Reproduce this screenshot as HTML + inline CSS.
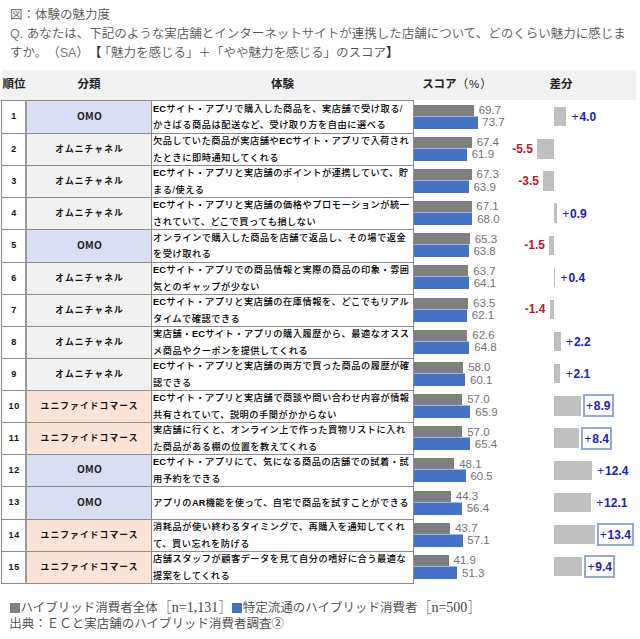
<!DOCTYPE html>
<html lang="ja"><head><meta charset="utf-8"><title>体験の魅力度</title>
<style>
*{margin:0;padding:0;box-sizing:border-box}
html,body{width:640px;height:639px;background:#fff;overflow:hidden}
body{position:relative;font-family:"Liberation Sans","Noto Sans CJK JP",sans-serif;text-spacing-trim:space-all}
.t{position:absolute;left:10px;font-size:12.5px;font-weight:350;color:#555;white-space:nowrap;line-height:19.1px}
.lt{color:#7a7a7a}
.hd{position:absolute;left:2px;top:70px;width:634px;height:30px;background:#F2F2F2}
.h{position:absolute;top:70px;height:30px;line-height:29px;font-size:11.5px;font-weight:bold;color:#222;text-align:center;white-space:nowrap}
.c{position:absolute}
.c1{left:2px;width:23px;font-size:9px;font-weight:bold;color:#111;display:flex;align-items:center;justify-content:center;padding-bottom:2px;letter-spacing:0.7px;text-indent:1.4px}
.c2{left:27px;width:124px;font-size:8.7px;font-weight:bold;color:#111;display:flex;align-items:center;justify-content:center;letter-spacing:1.15px;text-indent:1.15px;padding-bottom:2px}
.c2.omo{letter-spacing:0.2px;font-size:10.2px;padding-bottom:3.5px;font-family:"Noto Sans CJK JP",sans-serif;font-weight:bold;color:#222}
.c3{left:152px;width:261px;background:#fff;font-size:9.2px;font-weight:500;color:#000;display:flex;align-items:center;padding-left:1px;letter-spacing:0.55px;line-height:16.5px;white-space:nowrap;overflow:hidden}
.c3 b{font-weight:bold;letter-spacing:0.2px}
.hl{position:absolute;left:1px;width:413px;height:1px;background:#8C8C8C}
.vl{position:absolute;top:100px;height:484px;background:#8C8C8C}
.bg{position:absolute;left:413px;height:11px;background:#7F7F7F}
.bb{position:absolute;left:413px;height:12px;background:#4472C4;box-shadow:0 -1px 0 rgba(68,114,196,0.5)}
.v{position:absolute;font-size:11.5px;color:#727272;line-height:12px;white-space:nowrap}
.db{position:absolute;height:19.3px;background:#BFBFBF}
.dp,.dn{position:absolute;font-size:12px;font-weight:bold;line-height:18px;white-space:nowrap}
.dp{color:#2020C0}
.ps{font-weight:normal;margin-right:0.8px}
.dn{color:#C4142A}
.box{border:2px solid #95A8D8;padding:1px 1.1px 0 1.1px;line-height:18px}
.lg{position:absolute;left:10px;font-size:12.5px;font-weight:350;color:#444;white-space:nowrap;line-height:16px}
.sq{display:inline-block;width:9.5px;height:9.4px;vertical-align:-0.5px;margin-right:1px}
.pc{font-weight:normal;color:#222;letter-spacing:1px}
.sf{font-family:"Liberation Serif","Noto Serif CJK SC",serif;font-size:14px}
</style></head><body>
<div class="t" style="top:5.8px">図：体験の魅力度</div>
<div class="t" style="top:24.9px"><span class="lt">Q.</span> あなたは、下記のような実店舗とインターネットサイトが連携した店舗について、どのくらい魅力に感じま</div>
<div class="t" style="top:44px">すか。（<span class="lt">SA</span>）<span style="letter-spacing:-3px;font-weight:bold;color:#333">【</span>「魅力を感じる」＋「やや魅力を感じる」のスコア<b style="color:#333">】</b></div>
<div class="hd"></div>
<div class="h" style="left:0;width:28px">順位</div>
<div class="h" style="left:26px;width:126px">分類</div>
<div class="h" style="left:152px;width:261px">体験</div>
<div class="h" style="left:415.5px;width:84px">スコア<span class="pc">（%）</span></div>
<div class="h" style="left:520px;width:82px">差分</div>
<div class="c c1" style="top:101px;height:32px">1</div>
<div class="c c2 omo" style="top:101px;height:32px;background:#DADEF3">OMO</div>
<div class="c c3" style="top:101px;height:32px"><span><b>EC</b>サイト・アプリで購入した商品を、実店舗で受け取る/<br>かさばる商品は配送など、受け取り方を自由に選べる</span></div>
<div class="bg" style="top:104.6px;width:60.91px"></div>
<div class="bb" style="top:116.6px;width:64.52px"></div>
<div class="v" style="top:104.0px;left:478.71px">69.7</div>
<div class="v" style="top:116.3px;left:482.32px">73.7</div>
<div class="db" style="top:107.1px;left:553.8px;width:12.2px"></div>
<div class="dp" style="top:108.4px;left:571.6px"><span class="ps">+</span>4.0</div>
<div class="c c1" style="top:134px;height:31px">2</div>
<div class="c c2 cat" style="top:134px;height:31px;background:#F1F1F1">オムニチャネル</div>
<div class="c c3" style="top:134px;height:31px"><span>欠品していた商品が実店舗や<b>EC</b>サイト・アプリで入荷され<br>たときに即時通知してくれる</span></div>
<div class="bg" style="top:136.76px;width:58.83px"></div>
<div class="bb" style="top:148.76px;width:53.86px"></div>
<div class="v" style="top:136.16px;left:476.63px">67.4</div>
<div class="v" style="top:148.46px;left:471.66px">61.9</div>
<div class="db" style="top:139.23px;left:537.02px;width:16.77px"></div>
<div class="dn" style="top:139.53px;right:107.18px">-5.5</div>
<div class="c c1" style="top:166px;height:31px">3</div>
<div class="c c2 cat" style="top:166px;height:31px;background:#F1F1F1">オムニチャネル</div>
<div class="c c3" style="top:166px;height:31px"><span><b>EC</b>サイト・アプリと実店舗のポイントが連携していて、貯<br>まる/使える</span></div>
<div class="bg" style="top:168.92px;width:58.74px"></div>
<div class="bb" style="top:180.92px;width:55.67px"></div>
<div class="v" style="top:168.32px;left:476.54px">67.3</div>
<div class="v" style="top:180.62px;left:473.47px">63.9</div>
<div class="db" style="top:171.36px;left:543.12px;width:10.67px"></div>
<div class="dn" style="top:171.66px;right:101.08px">-3.5</div>
<div class="c c1" style="top:198px;height:31px">4</div>
<div class="c c2 cat" style="top:198px;height:31px;background:#F1F1F1">オムニチャネル</div>
<div class="c c3" style="top:198px;height:31px"><span><b>EC</b>サイト・アプリと実店舗の価格やプロモーションが統一<br>されていて、どこで買っても損しない</span></div>
<div class="bg" style="top:201.08px;width:58.56px"></div>
<div class="bb" style="top:213.08px;width:59.37px"></div>
<div class="v" style="top:200.48px;left:476.36px">67.1</div>
<div class="v" style="top:212.78px;left:477.17px">68.0</div>
<div class="db" style="top:203.49px;left:553.8px;width:2.75px"></div>
<div class="dp" style="top:204.79px;left:562.14px"><span class="ps">+</span>0.9</div>
<div class="c c1" style="top:230px;height:32px">5</div>
<div class="c c2 omo" style="top:230px;height:32px;background:#DADEF3">OMO</div>
<div class="c c3" style="top:230px;height:32px"><span>オンラインで購入した商品を店舗で返品し、その場で返金<br>を受け取れる</span></div>
<div class="bg" style="top:233.24px;width:56.93px"></div>
<div class="bb" style="top:245.24px;width:55.58px"></div>
<div class="v" style="top:232.64px;left:474.73px">65.3</div>
<div class="v" style="top:244.94px;left:473.38px">63.8</div>
<div class="db" style="top:235.62px;left:549.22px;width:4.57px"></div>
<div class="dn" style="top:235.92px;right:94.98px">-1.5</div>
<div class="c c1" style="top:263px;height:31px">6</div>
<div class="c c2 cat" style="top:263px;height:31px;background:#F1F1F1">オムニチャネル</div>
<div class="c c3" style="top:263px;height:31px"><span><b>EC</b>サイト・アプリでの商品情報と実際の商品の印象・雰囲<br>気とのギャップが少ない</span></div>
<div class="bg" style="top:265.4px;width:55.48px"></div>
<div class="bb" style="top:277.4px;width:55.85px"></div>
<div class="v" style="top:264.8px;left:473.28px">63.7</div>
<div class="v" style="top:277.1px;left:473.65px">64.1</div>
<div class="db" style="top:267.75px;left:553.8px;width:1.22px"></div>
<div class="dp" style="top:269.05px;left:560.62px"><span class="ps">+</span>0.4</div>
<div class="c c1" style="top:295px;height:31px">7</div>
<div class="c c2 cat" style="top:295px;height:31px;background:#F1F1F1">オムニチャネル</div>
<div class="c c3" style="top:295px;height:31px"><span><b>EC</b>サイト・アプリと実店舗の在庫情報を、どこでもリアル<br>タイムで確認できる</span></div>
<div class="bg" style="top:297.56px;width:55.3px"></div>
<div class="bb" style="top:309.56px;width:54.04px"></div>
<div class="v" style="top:296.96px;left:473.1px">63.5</div>
<div class="v" style="top:309.26px;left:471.84px">62.1</div>
<div class="db" style="top:299.88px;left:549.53px;width:4.27px"></div>
<div class="dn" style="top:300.18px;right:94.67px">-1.4</div>
<div class="c c1" style="top:327px;height:31px">8</div>
<div class="c c2 cat" style="top:327px;height:31px;background:#F1F1F1">オムニチャネル</div>
<div class="c c3" style="top:327px;height:31px"><span>実店舗・<b>EC</b>サイト・アプリの購入履歴から、最適なオスス<br>メ商品やクーポンを提供してくれる</span></div>
<div class="bg" style="top:329.72px;width:54.49px"></div>
<div class="bb" style="top:341.72px;width:56.48px"></div>
<div class="v" style="top:329.12px;left:472.29px">62.6</div>
<div class="v" style="top:341.42px;left:474.28px">64.8</div>
<div class="db" style="top:332.01px;left:553.8px;width:6.71px"></div>
<div class="dp" style="top:333.31px;left:566.11px"><span class="ps">+</span>2.2</div>
<div class="c c1" style="top:359px;height:31px">9</div>
<div class="c c2 cat" style="top:359px;height:31px;background:#F1F1F1">オムニチャネル</div>
<div class="c c3" style="top:359px;height:31px"><span><b>EC</b>サイト・アプリと実店舗の両方で買った商品の履歴が確<br>認できる</span></div>
<div class="bg" style="top:361.88px;width:50.33px"></div>
<div class="bb" style="top:373.88px;width:52.23px"></div>
<div class="v" style="top:361.28px;left:468.13px">58.0</div>
<div class="v" style="top:373.58px;left:470.03px">60.1</div>
<div class="db" style="top:364.14px;left:553.8px;width:6.41px"></div>
<div class="dp" style="top:365.44px;left:565.8px"><span class="ps">+</span>2.1</div>
<div class="c c1" style="top:391px;height:31px">10</div>
<div class="c c2 cat" style="top:391px;height:31px;background:#FBE4D6">ユニファイドコマース</div>
<div class="c c3" style="top:391px;height:31px"><span><b>EC</b>サイト・アプリと実店舗で商談や問い合わせ内容が情報<br>共有されていて、説明の手間がかからない</span></div>
<div class="bg" style="top:394.04px;width:49.43px"></div>
<div class="bb" style="top:406.04px;width:57.47px"></div>
<div class="v" style="top:393.44px;left:467.23px">57.0</div>
<div class="v" style="top:405.74px;left:475.27px">65.9</div>
<div class="db" style="top:396.27px;left:553.8px;width:27.14px"></div>
<div class="dp box" style="top:394.47px;left:582.84px"><span class="ps">+</span>8.9</div>
<div class="c c1" style="top:423px;height:31px">11</div>
<div class="c c2 cat" style="top:423px;height:31px;background:#FBE4D6">ユニファイドコマース</div>
<div class="c c3" style="top:423px;height:31px"><span>実店舗に行くと、オンライン上で作った買物リストに入れ<br>た商品がある棚の位置を教えてくれる</span></div>
<div class="bg" style="top:426.2px;width:49.43px"></div>
<div class="bb" style="top:438.2px;width:57.02px"></div>
<div class="v" style="top:425.6px;left:467.23px">57.0</div>
<div class="v" style="top:437.9px;left:474.82px">65.4</div>
<div class="db" style="top:428.4px;left:553.8px;width:25.62px"></div>
<div class="dp box" style="top:426.6px;left:581.32px"><span class="ps">+</span>8.4</div>
<div class="c c1" style="top:455px;height:31px">12</div>
<div class="c c2 omo" style="top:455px;height:31px;background:#DADEF3">OMO</div>
<div class="c c3" style="top:455px;height:31px"><span><b>EC</b>サイト・アプリにて、気になる商品の店舗での試着・試<br>用予約をできる</span></div>
<div class="bg" style="top:458.36px;width:41.38px"></div>
<div class="bb" style="top:470.36px;width:52.59px"></div>
<div class="v" style="top:457.76px;left:459.18px">48.1</div>
<div class="v" style="top:470.06px;left:470.39px">60.5</div>
<div class="db" style="top:460.53px;left:553.8px;width:37.82px"></div>
<div class="dp" style="top:461.83px;left:597.22px"><span class="ps">+</span>12.4</div>
<div class="c c1" style="top:487px;height:32px">13</div>
<div class="c c2 omo" style="top:487px;height:32px;background:#DADEF3">OMO</div>
<div class="c c3" style="top:487px;height:32px"><span>アプリの<b>AR</b>機能を使って、自宅で商品を試すことができる</span></div>
<div class="bg" style="top:490.52px;width:37.95px"></div>
<div class="bb" style="top:502.52px;width:48.89px"></div>
<div class="v" style="top:489.92px;left:455.75px">44.3</div>
<div class="v" style="top:502.22px;left:466.69px">56.4</div>
<div class="db" style="top:492.66px;left:553.8px;width:36.9px"></div>
<div class="dp" style="top:493.96px;left:596.3px"><span class="ps">+</span>12.1</div>
<div class="c c1" style="top:520px;height:31px">14</div>
<div class="c c2 cat" style="top:520px;height:31px;background:#FBE4D6">ユニファイドコマース</div>
<div class="c c3" style="top:520px;height:31px"><span>消耗品が使い終わるタイミングで、再購入を通知してくれ<br>て、買い忘れを防げる</span></div>
<div class="bg" style="top:522.68px;width:37.4px"></div>
<div class="bb" style="top:534.68px;width:49.52px"></div>
<div class="v" style="top:522.08px;left:455.2px">43.7</div>
<div class="v" style="top:534.38px;left:467.32px">57.1</div>
<div class="db" style="top:524.79px;left:553.8px;width:40.87px"></div>
<div class="dp box" style="top:522.99px;left:596.57px"><span class="ps">+</span>13.4</div>
<div class="c c1" style="top:552px;height:31px">15</div>
<div class="c c2 cat" style="top:552px;height:31px;background:#FBE4D6">ユニファイドコマース</div>
<div class="c c3" style="top:552px;height:31px"><span>店舗スタッフが顧客データを見て自分の嗜好に合う最適な<br>提案をしてくれる</span></div>
<div class="bg" style="top:554.84px;width:35.78px"></div>
<div class="bb" style="top:566.84px;width:44.28px"></div>
<div class="v" style="top:554.24px;left:453.58px">41.9</div>
<div class="v" style="top:566.54px;left:462.08px">51.3</div>
<div class="db" style="top:556.92px;left:553.8px;width:28.67px"></div>
<div class="dp box" style="top:555.12px;left:584.37px"><span class="ps">+</span>9.4</div>
<div class="hl" style="top:100px"></div>
<div class="hl" style="top:133px"></div>
<div class="hl" style="top:165px"></div>
<div class="hl" style="top:197px"></div>
<div class="hl" style="top:229px"></div>
<div class="hl" style="top:262px"></div>
<div class="hl" style="top:294px"></div>
<div class="hl" style="top:326px"></div>
<div class="hl" style="top:358px"></div>
<div class="hl" style="top:390px"></div>
<div class="hl" style="top:422px"></div>
<div class="hl" style="top:454px"></div>
<div class="hl" style="top:486px"></div>
<div class="hl" style="top:519px"></div>
<div class="hl" style="top:551px"></div>
<div class="hl" style="top:583px"></div>
<div class="vl" style="left:1px;width:1px;background:#8C8C8C"></div>
<div class="vl" style="left:25px;width:2px;background:#9A9A9A"></div>
<div class="vl" style="left:151px;width:1px;background:#8C8C8C"></div>
<div class="vl" style="left:413px;width:1px;background:#8C8C8C"></div>
<div class="lg" style="top:600px"><span class="sq" style="background:#808080"></span>ハイブリッド消費者全体<span class="sf">［n=1,131］</span><span class="sq" style="background:#4472C4"></span>特定流通のハイブリッド消費者<span class="sf">［n=500］</span></div>
<div class="lg" style="top:616px;left:9.3px">出典：ＥＣと実店舗のハイブリッド消費者調査②</div>
</body></html>
